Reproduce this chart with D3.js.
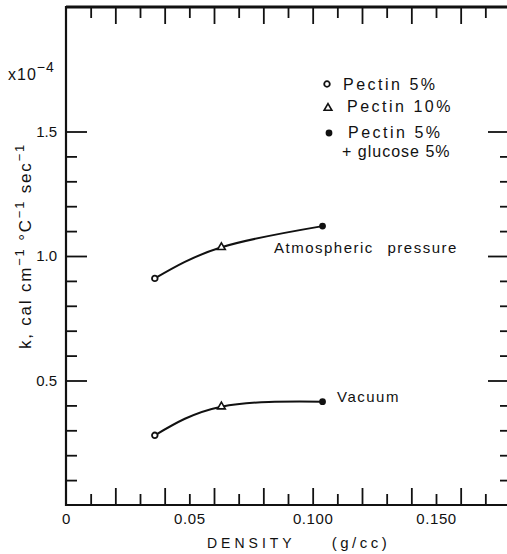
<!DOCTYPE html>
<html>
<head>
<meta charset="utf-8">
<script src="https://cdn.jsdelivr.net/npm/d3@7"></script>
<style>
  body { margin: 0; background: #fff; }
  text { font-family: 'Liberation Sans', Arial, sans-serif; fill: #111; }
</style>
</head>
<body>
<div id="chart"></div>
<script>
// values (k in units of 1e-4 cal cm-1 °C-1 sec-1)
const density = [0.036, 0.063, 0.104]
const kAtmospheric = [0.91, 1.035, 1.12]
const kVacuum = [0.28, 0.395, 0.415]
const sampleMarkers = ['circle', 'triangle', 'dot']
const legendLabels = [['Pectin 5%'], ['Pectin 10%'], ['Pectin 5%', '+ glucose 5%']]
const xTickLabels = [0, 0.05, 0.10, 0.15]
const xTickText = ['0', '0.05', '0.100', '0.150']
const yTickLabels = [0.5, 1.0, 1.5]

const margin = { top: 7, right: -3, bottom: 49, left: 66 }
const W = 507
const H = 554
const width = W - margin.left - margin.right
const height = H - margin.top - margin.bottom

const svg = d3.select('#chart').append('svg')
  .attr('width', W)
  .attr('height', H)
  .append('g')
  .attr('transform', `translate(${margin.left},${margin.top})`)

const x = d3.scaleLinear().domain([0, 0.18]).range([0, width])
const y = d3.scaleLinear().domain([0, 2]).range([height, 0])

const xMinor = x.ticks(18).filter(d => d > 0.001 && d < 0.175)
const isEven = d => Math.round(d * 100) % 2 === 0
const yMinor = y.ticks(20).filter(d => d > 0.05 && d < 1.55)
const isMajorY = d => Math.round(d * 10) % 5 === 0

const clean = g => {
  g.select('.domain').remove()
  g.selectAll('.tick line').attr('stroke', '#111').attr('stroke-width', 1.8)
}

// bottom ticks (pointing up)
svg.append('g').attr('transform', `translate(0,${height})`)
  .call(d3.axisBottom(x).tickValues(xMinor.filter(isEven)).tickSize(-17).tickFormat(''))
  .call(clean)
svg.append('g').attr('transform', `translate(0,${height})`)
  .call(d3.axisBottom(x).tickValues(xMinor.filter(d => !isEven(d))).tickSize(-11).tickFormat(''))
  .call(clean)
// bottom labels
svg.append('g').attr('transform', `translate(0,${height})`)
  .call(d3.axisBottom(x).tickValues(xTickLabels).tickSize(0).tickPadding(8)
    .tickFormat((d, i) => xTickText[i]))
  .call(clean)
  .selectAll('text')
  .attr('font-size', 15)
  .attr('letter-spacing', 0.6)
  .attr('font-family', "'Liberation Sans', Arial, sans-serif")

// top ticks (pointing down)
svg.append('g')
  .call(d3.axisTop(x).tickValues(xMinor.filter(isEven)).tickSize(-17).tickFormat(''))
  .call(clean)
svg.append('g')
  .call(d3.axisTop(x).tickValues(xMinor.filter(d => !isEven(d))).tickSize(-11).tickFormat(''))
  .call(clean)

// left axis
svg.append('g')
  .call(d3.axisLeft(y).tickValues(yTickLabels).tickSize(-21).tickPadding(9)
    .tickFormat(d3.format('.1f')))
  .call(clean)
  .selectAll('text')
  .attr('font-size', 15)
  .attr('font-family', "'Liberation Sans', Arial, sans-serif")
svg.append('g')
  .call(d3.axisLeft(y).tickValues(yMinor.filter(d => !isMajorY(d))).tickSize(-11).tickFormat(''))
  .call(clean)

// right axis (line itself falls just outside the picture)
svg.append('g').attr('transform', `translate(${width},0)`)
  .call(d3.axisRight(y).tickValues(yMinor.filter(isMajorY)).tickSize(-22).tickFormat(''))
  .call(clean)
svg.append('g').attr('transform', `translate(${width},0)`)
  .call(d3.axisRight(y).tickValues(yMinor.filter(d => !isMajorY(d))).tickSize(-10).tickFormat(''))
  .call(clean)

// frame
svg.append('path')
  .attr('d', `M${width},0H0V${height}H${width}`)
  .attr('fill', 'none')
  .attr('stroke', '#111')
  .attr('stroke-width', 2.2)
svg.append('line')
  .attr('x1', x(0)).attr('x2', width)
  .attr('y1', 0).attr('y2', 0)
  .attr('stroke', '#111')
  .attr('stroke-width', 3)

// axis titles
svg.append('text')
  .attr('x', 207 - margin.left)
  .attr('y', H - margin.top - 6)
  .attr('font-size', 14)
  .attr('letter-spacing', 4)
  .text('DENSITY')
  .append('tspan')
  .attr('dx', 36)
  .attr('font-size', 15)
  .attr('letter-spacing', 3.5)
  .text('(g/cc)')

const yTitle = svg.append('text')
  .attr('transform', `translate(${31 - margin.left},${246 - margin.top}) rotate(-90)`)
  .attr('text-anchor', 'middle')
  .attr('font-size', 17)
  .attr('letter-spacing', 1.8)
const sup = (t, s) => {
  t.append('tspan').attr('dy', -7).attr('font-size', 13).text(s)
  t.append('tspan').attr('dy', 7).text(' ')
}
yTitle.append('tspan').text('k,  cal cm')
sup(yTitle, '−1')
yTitle.append('tspan').text('°C')
sup(yTitle, '−1')
yTitle.append('tspan').text('sec')
yTitle.append('tspan').attr('dy', -7).attr('font-size', 13).text('−1')

const mult = svg.append('text')
  .attr('x', 8 - margin.left)
  .attr('y', 80 - margin.top)
  .attr('font-size', 16)
  .attr('letter-spacing', 1)
mult.append('tspan').text('x10')
mult.append('tspan').attr('dy', -8).attr('font-size', 14).text('−4')

// curves
const line = d3.line()
  .x((d, i) => x(density[i]))
  .y(d => y(d))
  .curve(d3.curveNatural)

const series = [
  { name: 'Atmospheric pressure', values: kAtmospheric, lx: 274, ly: 253, ws: 8 },
  { name: 'Vacuum', values: kVacuum, lx: 337, ly: 402, ws: 0 }
]

const drawMarker = (sel, type) => {
  if (type === 'circle') {
    sel.append('circle').attr('r', 2.8).attr('fill', '#fff')
      .attr('stroke', '#111').attr('stroke-width', 1.8)
  } else if (type === 'triangle') {
    sel.append('path').attr('d', d3.symbol(d3.symbolTriangle, 26)())
      .attr('fill', '#fff').attr('stroke', '#111').attr('stroke-width', 1.6)
  } else {
    sel.append('circle').attr('r', 3.4).attr('fill', '#111')
  }
}

series.forEach((s) => {
  svg.append('path')
    .datum(s.values)
    .attr('d', line)
    .attr('fill', 'none')
    .attr('stroke', '#111')
    .attr('stroke-width', 2)

  s.values.forEach((v, i) => {
    const g = svg.append('g')
      .attr('transform', `translate(${x(density[i])},${y(v)})`)
    drawMarker(g, sampleMarkers[i])
  })

  svg.append('text')
    .attr('x', s.lx - margin.left)
    .attr('y', s.ly - margin.top)
    .attr('font-size', 15)
    .attr('letter-spacing', 1.5)
    .attr('word-spacing', s.ws)
    .text(s.name)
})

// legend
const legendPos = [
  { mx: 327, my: 84, tx: 343, ty: 90 },
  { mx: 328, my: 108, tx: 347, ty: 112 },
  { mx: 329, my: 133, tx: 348, ty: 138 }
]
legendLabels.forEach((lines, i) => {
  const p = legendPos[i]
  const g = svg.append('g')
    .attr('transform', `translate(${p.mx - margin.left},${p.my - margin.top})`)
  drawMarker(g, sampleMarkers[i])
  lines.forEach((t, j) => {
    svg.append('text')
      .attr('x', (j === 0 ? p.tx : p.tx - 6) - margin.left)
      .attr('y', p.ty + j * 19 - margin.top)
      .attr('font-size', 16)
      .attr('letter-spacing', j === 0 ? 2.5 : 1)
      .text(t)
  })
})
</script>
</body>
</html>
